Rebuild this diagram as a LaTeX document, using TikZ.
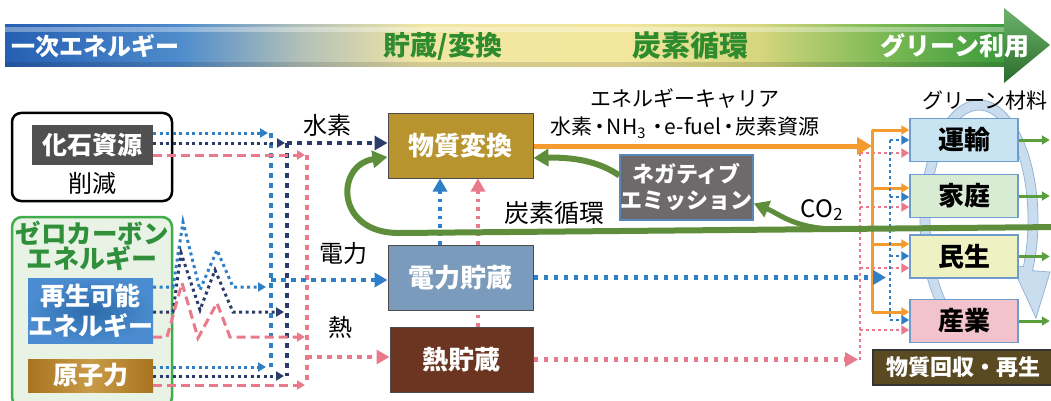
\documentclass[tikz,border=0pt]{standalone}
\usepackage{fontspec}
\setmainfont{Noto Sans CJK JP}
\usetikzlibrary{arrows.meta,calc}
\definecolor{blueL}{HTML}{2E7FC6}
\definecolor{navyD}{HTML}{2B3B6B}
\definecolor{pinkL}{HTML}{E97A8C}
\definecolor{orangeC}{HTML}{F59A2C}
\definecolor{greenC}{HTML}{5E8E3C}
\definecolor{greenR}{HTML}{5B9E3E}
\definecolor{tgreen}{HTML}{2E8B2E}
\definecolor{matF}{HTML}{B8942F}
\definecolor{elecF}{HTML}{7A9BBB}
\definecolor{heatF}{HTML}{6B3521}
\definecolor{fosF}{HTML}{505050}
\definecolor{zB}{HTML}{3FAE4A}
\definecolor{zF}{HTML}{E9F3E5}
\definecolor{zT}{HTML}{2F8F3A}
\definecolor{renA}{HTML}{2D6BAA}
\definecolor{renB}{HTML}{4A8CCF}
\definecolor{nucA}{HTML}{A8741F}
\definecolor{nucB}{HTML}{C99B48}
\definecolor{negF}{HTML}{6E6A6C}
\definecolor{negB}{HTML}{5B86B8}
\definecolor{unF}{HTML}{C8E4F2}
\definecolor{kaF}{HTML}{D8EBD3}
\definecolor{miF}{HTML}{EEF2C2}
\definecolor{saF}{HTML}{F2C3CC}
\definecolor{rbB}{HTML}{6F9CCB}
\definecolor{recF}{HTML}{5A4A22}
\definecolor{cycF}{HTML}{C9DDEF}
\definecolor{cycB}{HTML}{95B5D6}
\definecolor{ga}{HTML}{255FB3}
\definecolor{gb}{HTML}{4E8CCC}
\definecolor{gc}{HTML}{B3C0B8}
\definecolor{gd}{HTML}{F1E6A3}
\definecolor{ge}{HTML}{F3E79D}
\definecolor{gf}{HTML}{D5D67E}
\definecolor{gg}{HTML}{7DBA55}
\definecolor{gh}{HTML}{3C9A3C}
\newcommand\fsz[2]{\fontsize{#1}{#2}\selectfont}
\newcommand\mdot{\kern-0.15em・\kern-0.15em}
\begin{document}
\begin{tikzpicture}[x=1pt,y=-1pt,
  arS/.style={-{Triangle[width=9pt,length=8pt]}},
  arM/.style={-{Triangle[width=14pt,length=13pt]}},
  arL/.style={-{Triangle[width=17pt,length=15pt]}},
  sdot/.style={line width=3pt,dash pattern=on 3pt off 3.5pt},
  bdot/.style={line width=4.5pt,dash pattern=on 4.5pt off 5.5pt},
  vdot/.style={line width=3.5pt,dash pattern=on 3.5pt off 5pt},
  pdash/.style={line width=3pt,dash pattern=on 9pt off 5pt},
  tdot/.style={line width=2.8pt,dash pattern=on 2.8pt off 3.2pt},
  box/.style={draw=black!70,line width=1pt,inner sep=0pt,minimum width=145pt,minimum height=64pt,text=white,font=\fsz{26}{30}\bfseries},
  rbox/.style={draw=rbB,line width=1.5pt,inner sep=0pt,minimum width=108pt,minimum height=43pt,font=\fsz{26}{30}\bfseries},
  lbl/.style={font=\fsz{24}{28}},
]
\clip (0,0) rectangle (1051,401);
% ---------- top band ----------
\shade[left color=ga,right color=gb] (5,25) rectangle (181,67);
\shade[left color=gb,right color=gc] (180,25) rectangle (301,67);
\shade[left color=gc,right color=gd] (300,25) rectangle (421,67);
\shade[left color=gd,right color=ge] (420,25) rectangle (621,67);
\shade[left color=ge,right color=gf] (620,25) rectangle (761,67);
\shade[left color=gf,right color=gg] (760,25) rectangle (881,67);
\shade[left color=gg,right color=gh] (880,25) rectangle (1006,67);
\fill[white,opacity=0.35] (5,27) rectangle (1005,32);
\fill[black,opacity=0.12] (5,62) rectangle (1005,67);
\shade[top color=gh!75!white,bottom color=gh!70!black] (1004,8) -- (1050,45) -- (1004,83) -- cycle;
\node[text=white,font=\fsz{24}{28}\bfseries] (t1) at (95,46) {一次エネルギー};
\node[text=tgreen,font=\fsz{27}{30}\bfseries] (t2) at (443,46) {貯蔵/変換};
\node[text=tgreen,font=\fsz{29}{30}\bfseries] (t3) at (690,46) {炭素循環};
\node[text=white,font=\fsz{25}{28}\bfseries] (t4) at (955,46) {グリーン利用};
% ---------- recycling arrow ----------
\coordinate (cc) at (979,220);
\filldraw[fill=cycF,draw=cycB,line width=0.8pt]
  ($(cc)+(230:59pt and 120pt)$) arc[start angle=230,end angle=-25,x radius=59pt,y radius=120pt]
  -- (1050,272) -- (1036,318) -- (1012,266)
  -- ($(cc)+(-25:49pt and 110pt)$) arc[start angle=-25,end angle=230,x radius=49pt,y radius=110pt] -- cycle;
% ---------- left boxes ----------
\node[draw=zB,fill=zF,line width=2.5pt,rounded corners=10pt,minimum width=160pt,minimum height=190pt,inner sep=0pt] (zero) at (92,312) {};
\node[draw=black,line width=2.5pt,rounded corners=9pt,minimum width=160pt,minimum height=88pt,inner sep=0pt] (fosout) at (92,157) {};
\node[fill=fosF,text=white,inner sep=0pt,minimum width=121pt,minimum height=40pt,font=\fsz{25}{28}\bfseries] (fos) at (92.5,145) {化石資源};
\node[lbl] (gen) at (92,183) {削減};
\node[text=zT,font=\fsz{25.5}{28}\bfseries] (zt1) at (92,233) {ゼロカーボン};
\node[text=zT,font=\fsz{26}{28}\bfseries] (zt2) at (92,258) {エネルギー};
\node[inner sep=0pt,minimum width=125pt,minimum height=65pt,inner color=renA,outer color=renB,text=white,align=center,font=\fsz{25}{30}\bfseries] (ren) at (90.5,310.5) {再生可能\\エネルギー};
\node[inner sep=0pt,minimum width=125pt,minimum height=33pt,left color=nucA,right color=nucA,middle color=nucB,text=white,font=\fsz{25}{28}\bfseries] (nuc) at (90.5,375.5) {原子力};
% ---------- centre boxes ----------
\node[box,fill=matF] (mat) at (460.5,146) {物質変換};
\node[box,fill=elecF,minimum height=65pt] (elec) at (460.5,277.5) {電力貯蔵};
\node[box,fill=heatF,minimum width=143pt,minimum height=65pt] (heat) at (461.5,359.5) {熱貯蔵};
\node[fill=negF,draw=negB,line width=1.5pt,text=white,align=center,inner sep=0pt,minimum width=133pt,minimum height=65pt,font=\fsz{22}{26}\bfseries] (neg) at (686.5,187.5) {ネガティブ\\エミッション};
% ---------- right boxes ----------
\node[rbox,fill=unF] (un) at (964,140) {運輸};
\node[rbox,fill=kaF] (ka) at (964,196) {家庭};
\node[rbox,fill=miF] (mi) at (964,256.5) {民生};
\node[rbox,fill=saF] (sa) at (964,321) {産業};
\node[fill=recF,draw=black!80,line width=1.5pt,text=white,inner sep=0pt,minimum width=180pt,minimum height=35pt,font=\fsz{22}{26}\bfseries] (rec) at (963,367.5) {物質回収・再生};
% ---------- labels ----------
\node[lbl] (lh2) at (327,125) {水素};
\node[lbl] (lel) at (343,253) {電力};
\node[lbl] (lht) at (340,327) {熱};
\node[font=\fsz{25}{28}] (lcc) at (554,213) {炭素循環};
\node[font=\fsz{21}{24},inner sep=0pt] (lec) at (685,98) {エネルギーキャリア};
\node[font=\fsz{21}{24},inner sep=0pt] (lec2) at (685,128) {水素\mdot NH\textsubscript{3}\kern0.05em・\kern-0.15em e-fuel\mdot 炭素資源};
\node[lbl] (lco) at (822,210) {CO\textsubscript{2}};
\node[font=\fsz{21}{24}] (lgm) at (985,101) {グリーン材料};
% ---------- coordinates ----------
\coordinate (bT) at (271,133); \coordinate (bB) at (271,367);
\coordinate (nT) at (287,143); \coordinate (nB) at (287,376);
\coordinate (pT) at (307,155); \coordinate (pB) at (307,385);
\coordinate (bF) at (268,133); \coordinate (nF) at (285,143); \coordinate (pF) at (305,155);
\coordinate (bR) at (266,287); \coordinate (nR) at (284,312); \coordinate (pR) at (305,337);
\coordinate (bN) at (266,367); \coordinate (nN) at (284,376); \coordinate (pN) at (305,385);
\coordinate (bE) at (271,280);
\coordinate (pH) at (307,357);
\coordinate (oJ) at (872,146);
\coordinate (o1) at (872,130); \coordinate (o2) at (872,188); \coordinate (o3) at (872,244); \coordinate (o4) at (872,312);
\coordinate (bJ) at (886,277.5);
\coordinate (q1) at (890,140); \coordinate (q2) at (890,197); \coordinate (q3) at (890,256); \coordinate (q4) at (890,320);
\coordinate (pJ) at (858,359.5);
\coordinate (r0) at (860,359.5);
\coordinate (r1) at (860,153); \coordinate (r2) at (860,207); \coordinate (r3) at (860,268); \coordinate (r4) at (860,330);
\coordinate (gR) at (1060,227); \coordinate (gL) at (400,233); \coordinate (gB) at (840,229);
% ---------- left buses ----------
\draw[bdot,blueL] (bT) -- (bB);
\draw[bdot,navyD] (nT) -- (nB);
\draw[bdot,pinkL] (pT) -- (pB);
% fossil
\draw[sdot,blueL,arS] ($(fos.east)+(0,-12)$) -- (bF);
\draw[sdot,navyD,arS] ($(fos.east)+(0,-2)$) -- (nF);
\draw[pdash,pinkL,arS] ($(fos.east)+(0,10)$) -- (pF);
% renewables (zigzag)
\draw[sdot,blueL,arS] ($(ren.east)+(0,-23.5)$) -- (173,287) -- (183,222) -- (200,290) -- (217,250) -- (233,287) -- (bR);
\draw[sdot,navyD,arS] ($(ren.east)+(0,1.5)$) -- (173,312) -- (181,253) -- (200,310) -- (215,270) -- (233,312) -- (nR);
\draw[pdash,pinkL,arS] ($(ren.east)+(0,26.5)$) -- (167,337) -- (182,283) -- (198,338) -- (217,303) -- (230,337) -- (pR);
% nuclear
\draw[sdot,blueL,arS] ($(nuc.east)+(0,-8.5)$) -- (bN);
\draw[sdot,navyD,arS] ($(nuc.east)+(0,0.5)$) -- (nN);
\draw[pdash,pinkL,arS] ($(nuc.east)+(0,9.5)$) -- (pN);
% to centre boxes
\draw[bdot,navyD,arM] (nT) -- (mat.west |- nT);
\draw[bdot,blueL,arM] (bE) -- (elec.west |- bE);
\draw[bdot,pinkL,arM] (pH) -- (heat.west |- pH);
% centre verticals
\draw[vdot,blueL,arM] ($(elec.north)+(-20.5,0)$) -- ($(mat.south)+(-20.5,0)$);
\draw[vdot,pinkL,arM] ($(elec.north)+(17.5,0)$) -- ($(mat.south)+(17.5,0)$);
\draw[vdot,pinkL] ($(heat.north)+(16.5,0)$) -- ($(elec.south)+(17.5,0)$);
% ---------- right side ----------
\draw[bdot,pinkL,arM] (heat.east) -- (pJ);
\draw[tdot,pinkL] (r0) -- (r1);
\draw[tdot,pinkL,arS] (r1) -- (un.west |- r1);
\draw[tdot,pinkL,arS] (r2) -- (ka.west |- r2);
\draw[tdot,pinkL,arS] (r3) -- (mi.west |- r3);
\draw[tdot,pinkL,arS] (r4) -- (sa.west |- r4);
\draw[orangeC,line width=5pt,arL] (mat.east) -- (oJ);
\draw[orangeC,line width=3pt] (o1) -- (o4);
\draw[orangeC,line width=3pt,arS] (o1) -- (un.west |- o1);
\draw[orangeC,line width=3pt,arS] (o2) -- (ka.west |- o2);
\draw[orangeC,line width=3pt,arS] (o3) -- (mi.west |- o3);
\draw[orangeC,line width=3pt,arS] (o4) -- (sa.west |- o4);
\draw[bdot,blueL,arM] (elec.east) -- (bJ);
\draw[tdot,blueL] (q1) -- (q4);
\draw[tdot,blueL,arS] (q1) -- (un.west |- q1);
\draw[tdot,blueL,arS] (q2) -- (ka.west |- q2);
\draw[tdot,blueL,arS] (q3) -- (mi.west |- q3);
\draw[tdot,blueL,arS] (q4) -- (sa.west |- q4);
\foreach \b in {un,ka,mi,sa} \draw[greenR,line width=3pt,arS] (\b.east) -- ++(31,0);
% ---------- carbon cycle ----------
\draw[greenC,line width=6pt,arL] (gR) -- (gL) .. controls (335,234) and (335,165) .. ($(mat.west)+(0,11)$);
\draw[greenC,line width=5pt,arL] (gB) .. controls (795,229.5) and (780,214) .. ($(neg.east)+(0,16)$);
\draw[greenC,line width=6pt,arL] ($(neg.west)+(0,-12)$) .. controls (600,162) and (575,157) .. ($(mat.east)+(0,12)$);
\end{tikzpicture}
\end{document}
